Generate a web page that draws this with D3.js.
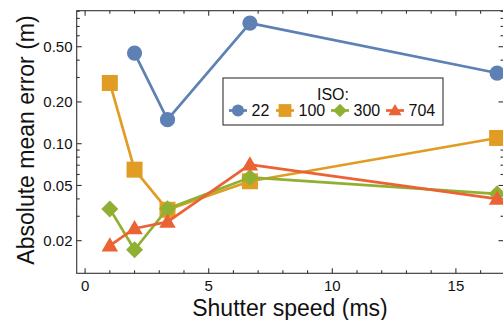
<!DOCTYPE html>
<html><head><meta charset="utf-8">
<script src="https://cdn.jsdelivr.net/npm/d3@7"></script>
<style>body{margin:0;background:#fff}svg{display:block}text{font-family:"Liberation Sans",Arial,sans-serif;fill:#111}</style>
</head><body><svg id="c" width="503" height="320"></svg>
<script>
const shutter = [1, 2, 3.333, 6.667, 16.667];
const isoLabels = ["22", "100", "300", "704"];
const iso22  = [null, 0.45, 0.149, 0.74, 0.323];
const iso100 = [0.274, 0.065, 0.0334, 0.0536, 0.11];
const iso300 = [0.0339, 0.0172, 0.034, 0.0571, 0.0435];
const iso704 = [0.0184, 0.0245, 0.0273, 0.0706, 0.040];
const xTicks = [0, 5, 10, 15];
const yTicks = [0.02, 0.05, 0.1, 0.2, 0.5];
const yTickLabels = ["0.02", "0.05", "0.10", "0.20", "0.50"];
const colors = ["#5E81B5", "#E19C24", "#8FB032", "#EB6235"];

const series = [iso22, iso100, iso300, iso704];
const svg = d3.select("#c");
const L = 76.7, R = 504.5, T = 10.7, B = 273.3;
const x = d3.scaleLinear().domain([-0.34, 16.93]).range([L, L + (16.93 + 0.34) * 24.72]);
const y = d3.scaleLog().domain([0.01164, 0.909]).range([B, T]);

const frame = svg.append("g").attr("stroke", "#333").attr("stroke-width", 1.1);
// frame
frame.append("rect").attr("x", L).attr("y", T).attr("width", R - L).attr("height", B - T).attr("fill", "none");
// x ticks
const xMinor = d3.range(0, 17, 1);
xMinor.forEach(v => {
  const major = v % 5 === 0;
  const len = major ? 5 : 3;
  frame.append("line").attr("x1", x(v)).attr("x2", x(v)).attr("y1", B).attr("y2", B - len);
  frame.append("line").attr("x1", x(v)).attr("x2", x(v)).attr("y1", T).attr("y2", T + len);
});
// y ticks
const yMinor = [];
[0.01, 0.1].forEach(d => { for (let k = 1; k <= 9; k++) { const v = +(d * k).toFixed(4); if (v >= 0.0117 && v <= 0.909) yMinor.push(v); } });
yMinor.forEach(v => {
  const major = yTicks.some(t => Math.abs(t - v) < 1e-6);
  const len = major ? 5 : 3;
  frame.append("line").attr("x1", L).attr("x2", L + len).attr("y1", y(v)).attr("y2", y(v));
  frame.append("line").attr("x1", R).attr("x2", R - len - 1).attr("y1", y(v)).attr("y2", y(v));
});
// tick labels
xTicks.forEach(v => svg.append("text").attr("x", x(v)).attr("y", 290.5).attr("text-anchor", "middle").attr("font-size", 15).text(v));
yTicks.forEach((v, i) => svg.append("text").attr("x", 72.5).attr("y", y(v) + 5.3).attr("text-anchor", "end").attr("font-size", 15).text(yTickLabels[i]));

// titles
svg.append("text").attr("x", 290).attr("y", 316).attr("text-anchor", "middle").attr("font-size", 23).text("Shutter speed (ms)");
svg.append("text").attr("transform", "translate(34,140) rotate(-90)").attr("text-anchor", "middle").attr("font-size", 23).text("Absolute mean error (m)");

function marker(g, kind, cx, cy, s, color) {
  let p;
  if (kind === 0) p = g.append("circle").attr("cx", cx).attr("cy", cy).attr("r", 7.6 * s);
  else if (kind === 1) p = g.append("rect").attr("x", cx - 8 * s).attr("y", cy - 8 * s).attr("width", 16 * s).attr("height", 16 * s);
  else if (kind === 2) p = g.append("path").attr("d", `M${cx},${cy - 8.5 * s}L${cx + 8.5 * s},${cy}L${cx},${cy + 8.5 * s}L${cx - 8.5 * s},${cy}Z`);
  else p = g.append("path").attr("d", d3.symbol().type(d3.symbolTriangle).size(118 * s * s)()).attr("transform", `translate(${cx},${cy + 1})`);
  p.attr("fill", color);
}

const plot = svg.append("g");
series.forEach((vals, i) => {
  const pts = shutter.map((s, j) => [s, vals[j]]).filter(d => d[1] != null);
  plot.append("path").datum(pts)
    .attr("d", d3.line().x(d => x(d[0])).y(d => y(d[1])))
    .attr("fill", "none").attr("stroke", colors[i]).attr("stroke-width", 2.7).attr("stroke-linejoin", "round");
  pts.forEach(d => marker(plot, i, x(d[0]), y(d[1]), 1, colors[i]));
});

// legend
const lg = svg.append("g");
lg.append("rect").attr("x", 223).attr("y", 78).attr("width", 220).attr("height", 47).attr("fill", "#fff").attr("stroke", "#333").attr("stroke-width", 1.1);
lg.append("text").attr("x", 333).attr("y", 100).attr("text-anchor", "middle").attr("font-size", 16).text("ISO:");
const lgMx = [238, 285, 340, 395];
isoLabels.forEach((lab, i) => {
  lg.append("line").attr("x1", lgMx[i] - 9).attr("x2", lgMx[i] + 9).attr("y1", 110.5).attr("y2", 110.5).attr("stroke", colors[i]).attr("stroke-width", 2.7);
  marker(lg, i, lgMx[i], 110.5, 0.8, colors[i]);
  lg.append("text").attr("x", lgMx[i] + 13.5).attr("y", 116.3).attr("font-size", 16).text(lab);
});
</script></body></html>
